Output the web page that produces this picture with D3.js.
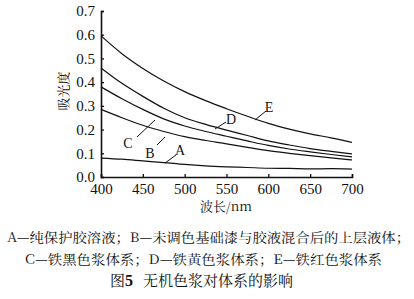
<!DOCTYPE html>
<html><head><meta charset="utf-8">
<script src="https://cdn.jsdelivr.net/npm/d3@7"></script>
<style>html,body{margin:0;padding:0;background:#fff;}</style>
</head><body>
<svg id="c" width="414" height="299"></svg>
<script>
const wavelengths = [400,425,450,475,500,525,550,575,600,625,650,675,700];
const seriesA = [0.080,0.075,0.068,0.061,0.053,0.047,0.043,0.040,0.037,0.036,0.034,0.035,0.033];
const seriesB = [0.285,0.250,0.218,0.192,0.170,0.154,0.140,0.125,0.111,0.100,0.090,0.081,0.072];
const seriesC = [0.380,0.330,0.285,0.245,0.215,0.192,0.172,0.152,0.133,0.118,0.106,0.095,0.085];
const seriesD = [0.460,0.395,0.340,0.290,0.250,0.222,0.198,0.175,0.152,0.135,0.120,0.108,0.097];
const seriesE = [0.595,0.520,0.458,0.405,0.360,0.322,0.288,0.256,0.226,0.202,0.182,0.165,0.146];
const seriesNames = ["A","B","C","D","E"];
const xTicks = [400,450,500,550,600,650,700];
const yTicks = [0,0.1,0.2,0.3,0.4,0.5,0.6,0.7];
const xTitle = "波长/nm";
const yTitle = "吸光度";
const caption1 = "A—纯保护胶溶液；B—未调色基础漆与胶液混合后的上层液体；";
const caption2 = "C—铁黑色浆体系；D—铁黄色浆体系；E—铁红色浆体系";
const captionFig = "图5";
const captionTitle = "无机色浆对体系的影响";

const SERIF = "'Liberation Serif','Times New Roman',serif";
const CJK = "'Noto Serif CJK SC','Noto Sans CJK SC',serif";

const svg = d3.select("#c");
const x = d3.scaleLinear().domain([400,700]).range([101,352]);
const y = d3.scaleLinear().domain([0,0.7]).range([177,11]);

const allSeries = [seriesA,seriesB,seriesC,seriesD,seriesE];
const line = d3.line().x((d,i)=>x(wavelengths[i])).y(d=>y(d)).curve(d3.curveMonotoneX);
svg.append("g").selectAll("path").data(allSeries).join("path")
  .attr("d", line).attr("fill","none").attr("stroke","#111").attr("stroke-width",1.2);

// axes
const gx = svg.append("g").attr("transform","translate(0,177)")
  .call(d3.axisBottom(x).tickValues(xTicks).tickSize(-3).tickPadding(6).tickFormat(d3.format("d")));
const gy = svg.append("g").attr("transform","translate(101,0)")
  .call(d3.axisLeft(y).tickValues(yTicks).tickSize(-3).tickPadding(6).tickFormat(d3.format(".1f")));
[gx,gy].forEach(g=>{
  g.select(".domain").attr("stroke","#111").attr("stroke-width",1.6);
  g.selectAll(".tick line").attr("stroke","#111").attr("stroke-width",1.3);
  g.selectAll("text").style("font-family",SERIF).style("font-size","15px").attr("fill","#111");
});

// series labels with pointers
const labels = [
  {n:"A", lx:180, ly:150, px1:165, py1:163, px2:176, py2:155},
  {n:"B", lx:150, ly:153, px1:157, py1:145, px2:165, py2:137},
  {n:"C", lx:128, ly:143, px1:137, py1:137, px2:155, py2:120},
  {n:"D", lx:231, ly:119, px1:215, py1:129, px2:226, py2:122},
  {n:"E", lx:269, ly:107, px1:255, py1:120, px2:266, py2:111}
];
const lg = svg.append("g");
lg.selectAll("line").data(labels).join("line")
  .attr("x1",d=>d.px1).attr("y1",d=>d.py1).attr("x2",d=>d.px2).attr("y2",d=>d.py2)
  .attr("stroke","#111").attr("stroke-width",1);
lg.selectAll("text").data(labels).join("text")
  .attr("x",d=>d.lx).attr("y",d=>d.ly).attr("text-anchor","middle").attr("dy","0.35em")
  .style("font-family",SERIF).style("font-size","14px").attr("fill","#111").text(d=>d.n);

// axis titles
svg.append("text").attr("transform","translate(63,91) rotate(-90)")
  .attr("text-anchor","middle").attr("dy","0.35em")
  .style("font-family",CJK).style("font-size","13px").attr("fill","#111").text(yTitle);
svg.append("text").attr("x",226).attr("y",211).attr("text-anchor","middle")
  .style("font-family",CJK).style("font-size","13px").attr("fill","#111").text(xTitle);

// captions
svg.append("text").attr("x",7).attr("y",242).attr("textLength",403).attr("lengthAdjust","spacingAndGlyphs")
  .style("font-family",CJK).style("font-size","13px").attr("fill","#111").text(caption1);
svg.append("text").attr("x",25).attr("y",264).attr("textLength",357).attr("lengthAdjust","spacingAndGlyphs")
  .style("font-family",CJK).style("font-size","13px").attr("fill","#111").text(caption2);
const ct = svg.append("text").attr("x",110).attr("y",286).style("font-family",CJK).style("font-size","15px").attr("fill","#111");
ct.append("tspan").text(captionFig.slice(0,1));
ct.append("tspan").style("font-family",SERIF).attr("font-weight","bold").style("font-size","16px").text(captionFig.slice(1));
ct.append("tspan").attr("dx",10).text(captionTitle);
</script>
</body></html>
